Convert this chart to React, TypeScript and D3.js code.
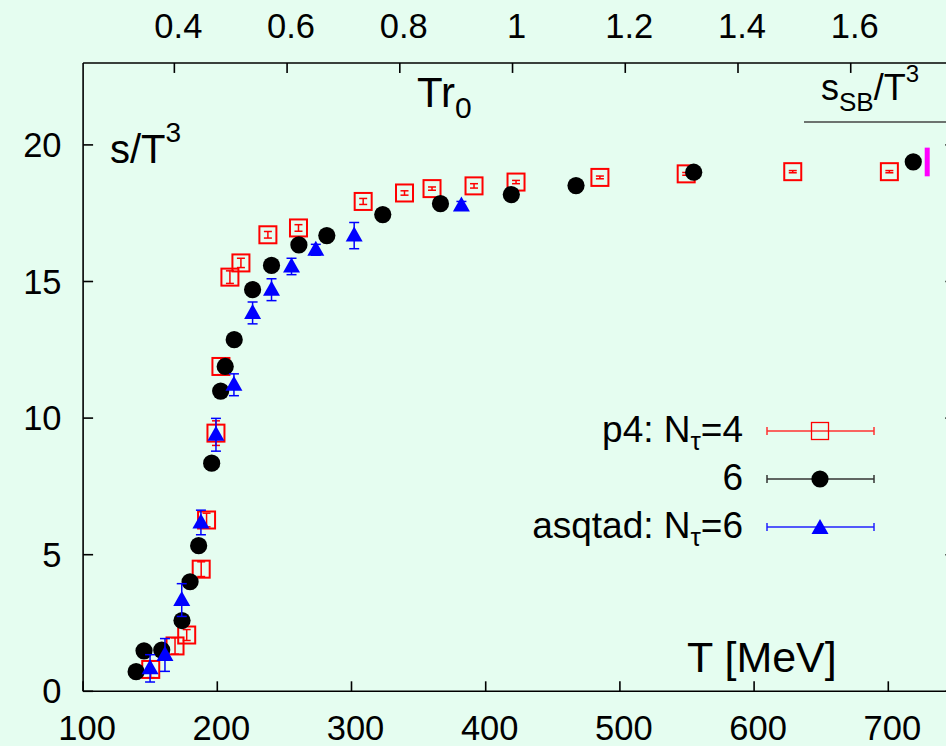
import React from "react";
import * as d3 from "d3";

// p4 action, N_tau = 4 (red open squares)
const redT = [150.4, 168.5, 177.2, 188, 192, 199, 202.7, 209.4, 217.6, 237.7, 260.5, 308.7, 339.5, 360, 391.3, 422.6, 485.1, 549.4, 628.8, 700.8];
const redS = [0.8, 1.66, 2.06, 4.47, 6.27, 9.45, 11.89, 15.16, 15.68, 16.71, 16.96, 17.93, 18.24, 18.4, 18.5, 18.64, 18.81, 18.94, 19.02, 19.02];
const redErr = [0.3, 0.3, 0.2, 0.27, 0.25, 0.45, 0.3, 0.23, 0.17, 0.12, 0.12, 0.11, 0.08, 0.06, 0.08, 0.06, 0.05, 0.05, 0.04, 0.04];

// p4 action, N_tau = 6 (black filled circles)
const blackT = [139.5, 145.4, 158.6, 173.7, 179.7, 186.1, 195.8, 202.5, 205.9, 212.6, 226.3, 240.4, 260.8, 281.6, 323.3, 366.3, 419.1, 467.3, 555, 718.6];
const blackS = [0.72, 1.48, 1.51, 2.59, 4.01, 5.33, 8.35, 10.99, 11.89, 12.87, 14.7, 15.59, 16.34, 16.68, 17.45, 17.85, 18.18, 18.51, 19.0, 19.38];

// asqtad action, N_tau = 6 (blue filled triangles)
const blueT = [149.9, 161, 173.5, 187.8, 199, 212.4, 226.3, 240.4, 255.3, 273.4, 302, 381.9];
const blueS = [0.84, 1.33, 3.34, 6.18, 9.39, 11.22, 13.85, 14.7, 15.55, 16.16, 16.68, 17.78];
const blueErr = [0.5, 0.6, 0.6, 0.45, 0.6, 0.4, 0.4, 0.4, 0.3, 0.2, 0.48, 0.15];

// Stefan-Boltzmann limit marker
const sbT = 729;
const sbRange = [18.85, 19.9];

const xTicks = [100, 200, 300, 400, 500, 600, 700];
const yTicks = [0, 5, 10, 15, 20];
const topTicks = [0.4, 0.6, 0.8, 1.0, 1.2, 1.4, 1.6];
const T0 = 420; // MeV, T at T r0 = 1

const W = 946;
const H = 746;
const FONT = "'Liberation Sans', Arial, Helvetica, sans-serif";
const BG = "#e5fdf0";

export default function App() {
  const x = d3.scaleLinear().domain([100, 750]).range([83.1, 83.1 + 650 * 1.342]);
  const y = d3.scaleLinear().domain([0, 23]).range([691.3, 691.3 - 23 * 27.32]);
  const xTop = d3.scaleLinear().domain([100 / T0, 750 / T0]).range(x.range());
  const [x0, x1] = x.range();
  const [y0, y1] = y.range();
  const tk = 10;

  const red = redT.map((t, i) => ({ t, s: redS[i], e: redErr[i] }));
  const black = blackT.map((t, i) => ({ t, s: blackS[i] }));
  const blue = blueT.map((t, i) => ({ t, s: blueS[i], e: blueErr[i] }));

  const sq = 17;
  const tri = (cx: number, cy: number) =>
    `M${cx},${cy - 9} L${cx + 8.5},${cy + 6} L${cx - 8.5},${cy + 6} Z`;

  const legX0 = 767, legX1 = 874, legXc = 820;
  const legRows = [431, 479, 527];

  return (
    <div style={{ position: "absolute", left: 0, top: 0 }}>
      <svg width={W} height={H} style={{ display: "block", background: BG }} fontFamily={FONT}>
        <rect x={0} y={0} width={W} height={H} fill={BG} />
        {/* frame */}
        <g stroke="#000" strokeWidth={1.6} fill="none">
          <line x1={x0} y1={y0} x2={x1} y2={y0} />
          <line x1={x0} y1={y1} x2={x1} y2={y1} />
          <line x1={x0} y1={y0} x2={x0} y2={y1} />
          <line x1={x1} y1={y0} x2={x1} y2={y1} />
          {xTicks.map((t) => (
            <line key={"xb" + t} x1={x(t)} x2={x(t)} y1={y0} y2={y0 - tk} />
          ))}
          {topTicks.map((t) => (
            <line key={"xt" + t} x1={xTop(t)} x2={xTop(t)} y1={y1} y2={y1 + tk} />
          ))}
          {yTicks.map((v) => (
            <React.Fragment key={"y" + v}>
              <line x1={x0} x2={x0 + tk} y1={y(v)} y2={y(v)} />
              <line x1={x1} x2={x1 - tk} y1={y(v)} y2={y(v)} />
            </React.Fragment>
          ))}
        </g>
        {/* tick labels */}
        <g fontSize={34.5} fill="#000">
          {xTicks.map((t) => (
            <text key={"xl" + t} x={x(t) + 4} y={740} textAnchor="middle">{t}</text>
          ))}
          {topTicks.map((t) => (
            <text key={"tl" + t} x={xTop(t) + 4} y={38.3} textAnchor="middle">{t === 1 ? "1" : t.toFixed(1)}</text>
          ))}
          {yTicks.map((v) => (
            <text key={"yl" + v} x={61.5} y={y(v) + 12} textAnchor="end">{v}</text>
          ))}
        </g>
        {/* axis labels */}
        <text x={110} y={163} fontSize={40}>
          s/T<tspan fontSize={28} dy={-21}>3</tspan>
        </text>
        <text x={417} y={107} fontSize={42}>
          Tr<tspan fontSize={30} dy={11}>0</tspan>
        </text>
        <text x={687} y={671.7} fontSize={43}>T [MeV]</text>
        <text x={821} y={100} fontSize={36}>
          s<tspan fontSize={26} dy={11}>SB</tspan>
          <tspan dy={-11}>/T</tspan>
          <tspan fontSize={24} dy={-18}>3</tspan>
        </text>
        <line x1={804} x2={W} y1={122} y2={122} stroke="#444" strokeWidth={1.5} />
        {/* SB marker */}
        <line x1={x(sbT)} x2={x(sbT)} y1={y(sbRange[0])} y2={y(sbRange[1])} stroke="#ff00ff" strokeWidth={5} />

        {/* red squares */}
        <g stroke="#ff0000" fill="none">
          {red.map((d, i) => (
            <g key={"r" + i}>
              <rect x={x(d.t) - sq / 2} y={y(d.s) - sq / 2} width={sq} height={sq} strokeWidth={2} />
              <line x1={x(d.t)} x2={x(d.t)} y1={y(d.s - d.e)} y2={y(d.s + d.e)} strokeWidth={1.5} />
              <line x1={x(d.t) - 4} x2={x(d.t) + 4} y1={y(d.s - d.e)} y2={y(d.s - d.e)} strokeWidth={1.5} />
              <line x1={x(d.t) - 4} x2={x(d.t) + 4} y1={y(d.s + d.e)} y2={y(d.s + d.e)} strokeWidth={1.5} />
            </g>
          ))}
        </g>
        {/* black circles */}
        <g fill="#000">
          {black.map((d, i) => (
            <circle key={"b" + i} cx={x(d.t)} cy={y(d.s)} r={8.6} />
          ))}
        </g>
        {/* blue triangles */}
        <g>
          {blue.map((d, i) => (
            <g key={"u" + i}>
              <g stroke="#0000ff" strokeWidth={1.5}>
                <line x1={x(d.t)} x2={x(d.t)} y1={y(d.s - d.e)} y2={y(d.s + d.e)} />
                <line x1={x(d.t) - 5} x2={x(d.t) + 5} y1={y(d.s - d.e)} y2={y(d.s - d.e)} />
                <line x1={x(d.t) - 5} x2={x(d.t) + 5} y1={y(d.s + d.e)} y2={y(d.s + d.e)} />
              </g>
              <path d={tri(x(d.t), y(d.s))} fill="#0000ff" />
            </g>
          ))}
        </g>

        {/* legend */}
        <g fontSize={37} fill="#000" textAnchor="end">
          <text x={743} y={legRows[0] + 11}>
            p4: N<tspan fontSize={26} dy={8}>τ</tspan><tspan dy={-8}>=4</tspan>
          </text>
          <text x={743} y={legRows[1] + 11}>6</text>
          <text x={743} y={legRows[2] + 11}>
            asqtad: N<tspan fontSize={26} dy={8}>τ</tspan><tspan dy={-8}>=6</tspan>
          </text>
        </g>
        {[
          { c: "#ff3030", yy: legRows[0] },
          { c: "#333", yy: legRows[1] },
          { c: "#2020ff", yy: legRows[2] },
        ].map((r, i) => (
          <g key={"lg" + i} stroke={r.c} strokeWidth={1.5}>
            <line x1={legX0} x2={legX1} y1={r.yy} y2={r.yy} />
            <line x1={legX0} x2={legX0} y1={r.yy - 4} y2={r.yy + 4} />
            <line x1={legX1} x2={legX1} y1={r.yy - 4} y2={r.yy + 4} />
          </g>
        ))}
        <rect x={legXc - 8.5} y={legRows[0] - 8.5} width={17} height={17} fill="none" stroke="#ff0000" strokeWidth={1.3} />
        <circle cx={legXc} cy={legRows[1]} r={8.6} fill="#000" />
        <path d={tri(legXc, legRows[2] + 1)} fill="#0000ff" />
      </svg>
    </div>
  );
}
